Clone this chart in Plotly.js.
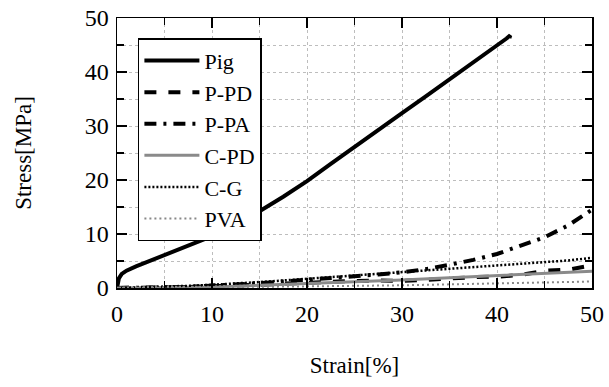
<!DOCTYPE html>
<html><head><meta charset="utf-8">
<script src="https://cdn.plot.ly/plotly-3.0.1.min.js"></script>
<style>html,body{margin:0;padding:0;background:#fff}#chart{width:609px;height:387px}
#chart svg text{font-family:'Liberation Serif', serif !important;}</style>
</head><body><div id="chart"></div>
<script>
// Data
const pigStrain  = [0, 0.2, 0.5, 1, 2, 3, 5, 7, 10, 12, 15, 17.5, 20, 22.5, 25, 27.5, 30, 32.5, 35, 37.5, 40, 41, 41.4, 41.3];
const pigStress  = [0, 1.8, 2.6, 3.2, 4.0, 4.7, 6.0, 7.4, 9.6, 11.3, 14.2, 16.9, 19.8, 23.0, 26.2, 29.3, 32.4, 35.5, 38.6, 41.7, 44.8, 46.2, 46.8, 46.3];

const ppdStrain  = [0, 2.5, 5, 7.5, 10, 12.5, 15, 17.5, 20, 22.5, 25, 27.5, 30, 32.5, 35, 37.5, 40, 42.5, 45, 47.5, 50];
const ppdStress  = [0, 0.0, 0.1, 0.2, 0.3, 0.4, 0.6, 0.8, 1.0, 1.1, 1.3, 1.4, 1.3, 1.5, 1.8, 2.0, 2.1, 2.4, 3.2, 3.4, 4.2];

const ppaStrain  = [0, 2.5, 5, 7.5, 10, 12.5, 15, 17.5, 20, 22.5, 25, 27.5, 30, 32.5, 35, 37.5, 40, 42.5, 45, 47.5, 50];
const ppaStress  = [0, 0.0, 0.1, 0.2, 0.4, 0.6, 0.9, 1.2, 1.5, 1.8, 2.1, 2.5, 2.9, 3.5, 4.3, 5.2, 6.3, 7.8, 9.4, 11.6, 14.5];

const cpdStrain  = [0, 5, 10, 15, 20, 25, 30, 35, 40, 45, 50];
const cpdStress  = [0, 0.1, 0.2, 0.5, 0.8, 1.1, 1.5, 1.9, 2.3, 2.7, 3.1];

const cgStrain   = [0, 2.5, 5, 7.5, 10, 12.5, 15, 17.5, 20, 22.5, 25, 27.5, 30, 32.5, 35, 37.5, 40, 42.5, 45, 47.5, 50];
const cgStress   = [0, 0.1, 0.2, 0.4, 0.6, 0.8, 1.1, 1.4, 1.7, 2.0, 2.3, 2.6, 3.0, 3.3, 3.6, 3.9, 4.2, 4.5, 4.8, 5.1, 5.6];

const pvaStrain  = [0, 10, 20, 30, 40, 45, 50];
const pvaStress  = [0, 0.1, 0.3, 0.5, 0.8, 1.0, 1.2];

const names = ['Pig', 'P-PD', 'P-PA', 'C-PD', 'C-G', 'PVA'];
const xTicks = [0, 10, 20, 30, 40, 50];
const yTicks = [0, 10, 20, 30, 40, 50];

const styles = [
  {color: '#000', width: 4, dash: 'solid'},
  {color: '#000', width: 4, dash: '12px,12px'},
  {color: '#000', width: 4, dash: '12px,7px,3px,7px'},
  {color: '#8a8a8a', width: 3, dash: 'solid'},
  {color: '#000', width: 2.5, dash: '2px,2px'},
  {color: '#888', width: 2, dash: '2px,3px'}
];
const xs = [pigStrain, ppdStrain, ppaStrain, cpdStrain, cgStrain, pvaStrain];
const ys = [pigStress, ppdStress, ppaStress, cpdStress, cgStress, pvaStress];

const traces = names.map((n, i) => ({
  x: xs[i], y: ys[i], name: n, type: 'scatter', mode: 'lines',
  line: styles[i], legendgroup: 'g' + i
}));

const FAM = 'Liberation Serif';
function mkAxis(ticks, titleText, standoff, lblStandoff) {
  return {
    range: [0, 50], tickvals: ticks, ticktext: ticks.map(String), ticklabelstandoff: lblStandoff,
    showline: true, linecolor: '#000', linewidth: 1.5, mirror: 'ticks',
    ticks: 'inside', ticklen: 10, tickwidth: 2, tickcolor: '#000',
    showgrid: true, gridcolor: '#bdbdbd', griddash: 'dot', gridwidth: 1,
    zeroline: false, tickfont: {family: FAM, size: 24, color: '#000'},
    minor: {dtick: 5, ticks: 'inside', ticklen: 7, tickwidth: 1.5, tickcolor: '#000',
            showgrid: true, gridcolor: '#bdbdbd', griddash: 'dot', gridwidth: 1},
    title: {text: titleText, font: {family: FAM, size: 23, color: '#000'}, standoff: standoff}
  };
}

const layout = {
  width: 609, height: 387,
  margin: {l: 117, r: 17, t: 18, b: 99},
  paper_bgcolor: '#fff', plot_bgcolor: '#fff',
  font: {family: FAM, color: '#000'},
  xaxis: mkAxis(xTicks, 'Strain[%]', 30, 4),
  yaxis: mkAxis(yTicks, 'Stress[MPa]', 46, 2),
  showlegend: true,
  legend: {
    x: 0.044, y: 0.925, xanchor: 'left', yanchor: 'top',
    bgcolor: '#fff', bordercolor: '#000', borderwidth: 1.5,
    font: {family: FAM, size: 22, color: '#000'},
    traceorder: 'grouped', tracegroupgap: 0, itemwidth: 55
  }
};

Plotly.newPlot('chart', traces, layout, {displayModeBar: false, staticPlot: true});
</script>
</body></html>
